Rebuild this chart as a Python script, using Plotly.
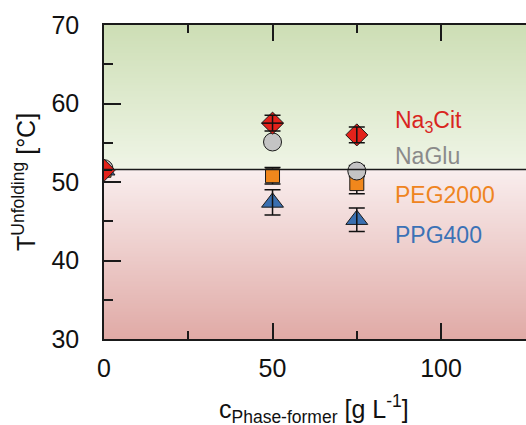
import numpy as np
import plotly.graph_objects as go

# ---- data ----
concentration = [0, 50, 75]
na3cit = [51.5, 57.5, 56.0]
na3cit_err = [0, 1.0, 1.0]
na3cit_xerr = [0, 3.2, 0]
naglu = [51.7, 55.1, 51.4]
naglu_err = [0, 0.3, 0.7]
peg2000 = [51.5, 50.8, 49.8]
peg2000_err = [0, 1.05, 1.3]
ppg400 = [51.5, 47.4, 45.2]
ppg400_err = [0, 1.6, 1.5]
reference_t = 51.6

series_names = ["Na<sub>3</sub>Cit", "NaGlu", "PEG2000", "PPG400"]
label_y = [57.7, 53.3, 48.3, 43.3]

x_range = [0, 125.2]
y_range = [30, 70]

FONT = "Liberation Sans, Arial, sans-serif"

fig = go.Figure()

# gradient background as a heatmap
yy = np.arange(30.1, 70.0, 0.2)
zz = np.column_stack([yy, yy])
split = (reference_t - y_range[0]) / (y_range[1] - y_range[0])
fig.add_trace(go.Heatmap(
    x=[0, 125.5], y=yy, z=zz, zmin=30, zmax=70, showscale=False,
    hoverinfo="skip",
    colorscale=[[0, "#e0aaa6"], [split, "#f9eeee"], [split, "#eff5e6"], [1, "#cddeb5"]],
))

# (values, y error, x error, symbol, colour, size, error bars drawn over marker)
series = [
    (ppg400, ppg400_err, None, "triangle-up", "#3a6fb0", 19, True),
    (peg2000, peg2000_err, None, "square", "#f0871c", 14, False),
    (naglu, naglu_err, None, "circle", "#c4c4c4", 18, False),
    (na3cit, na3cit_err, na3cit_xerr, "diamond", "#e3221b", 17, True),
]

for y, err, xerr, symbol, color, size, on_top in series:
    ey = dict(type="data", array=err, color="#111", thickness=1.5, width=8)
    kw = {}
    if xerr is not None:
        kw["error_x"] = dict(type="data", array=xerr, color="#111", thickness=1.5, width=0)
    fig.add_trace(go.Scatter(
        x=concentration, y=y, mode="markers", cliponaxis=True, hoverinfo="skip",
        marker=dict(symbol=symbol, color=color, size=size, line=dict(color="#1a1a1a", width=1)),
        error_y=None if on_top else ey,
        showlegend=False))
    if on_top:
        fig.add_trace(go.Scatter(
            x=concentration, y=y, mode="markers", cliponaxis=True, hoverinfo="skip",
            marker=dict(size=1, opacity=0), error_y=ey,
            showlegend=False, **kw))

label_colors = ["#d9261f", "#8a8a8a", "#ef8420", "#3b72b6"]
for name, yv, c in zip(series_names, label_y, label_colors):
    fig.add_annotation(x=85.8, y=yv, xref="x", yref="y", text=name, showarrow=False,
                       xanchor="left", yanchor="middle", font=dict(size=23, color=c, family=FONT))

fig.add_shape(type="line", xref="paper", yref="y", x0=0, x1=1, y0=reference_t, y1=reference_t,
              line=dict(color="#1a1a1a", width=1.5))

# axis titles
fig.add_annotation(xref="paper", yref="paper", x=(24 - 104) / 422, y=0.5,
                   text="T<sup>Unfolding</sup> [°C]", textangle=-90, showarrow=False,
                   xanchor="center", yanchor="middle", font=dict(size=25, color="#111", family=FONT))
fig.add_annotation(xref="paper", yref="paper", x=(314 - 104) / 422, y=-(389 - 339) / 314,
                   text="c<sub>Phase-former</sub> [g L<sup>-1</sup>]", showarrow=False,
                   xanchor="center", yanchor="top", font=dict(size=25, color="#111", family=FONT))

axis_common = dict(showgrid=False, zeroline=False, ticks="inside", tickcolor="#1a1a1a",
                   tickwidth=1.5, linecolor="#1a1a1a", linewidth=1.5,
                   tickfont=dict(size=25, color="#111", family=FONT))

fig.update_layout(
    width=526, height=425,
    margin=dict(l=104, r=0, t=25, b=86),
    paper_bgcolor="white", plot_bgcolor="white",
    xaxis=dict(range=x_range, tickvals=[0, 50, 100], ticklen=16, showline=True, mirror="ticks",
               ticklabelstandoff=6,
               minor=dict(tickvals=[25, 75, 125], ticklen=8, ticks="inside", tickcolor="#1a1a1a", tickwidth=1.5),
               **axis_common),
    yaxis=dict(range=y_range, tickvals=[30, 40, 50, 60, 70], ticklen=17, showline=True,
               ticklabelstandoff=18,
               minor=dict(tickvals=[35, 45, 55, 65], ticklen=9, ticks="inside", tickcolor="#1a1a1a", tickwidth=1.5),
               **axis_common),
    yaxis2=dict(range=y_range, overlaying="y", side="right", showline=False, showgrid=False,
                zeroline=False, ticks="inside", ticklen=17, tickcolor="#1a1a1a", tickwidth=1.5,
                tickvals=[30, 40, 50, 60, 70], showticklabels=False,
                minor=dict(tickvals=[35, 45, 55, 65], ticklen=9, ticks="inside", tickcolor="#1a1a1a", tickwidth=1.5)),
)

fig.write_html("out.html", config={"displayModeBar": False},
               post_script="document.body.style.margin='0';document.body.style.overflow='hidden';")
